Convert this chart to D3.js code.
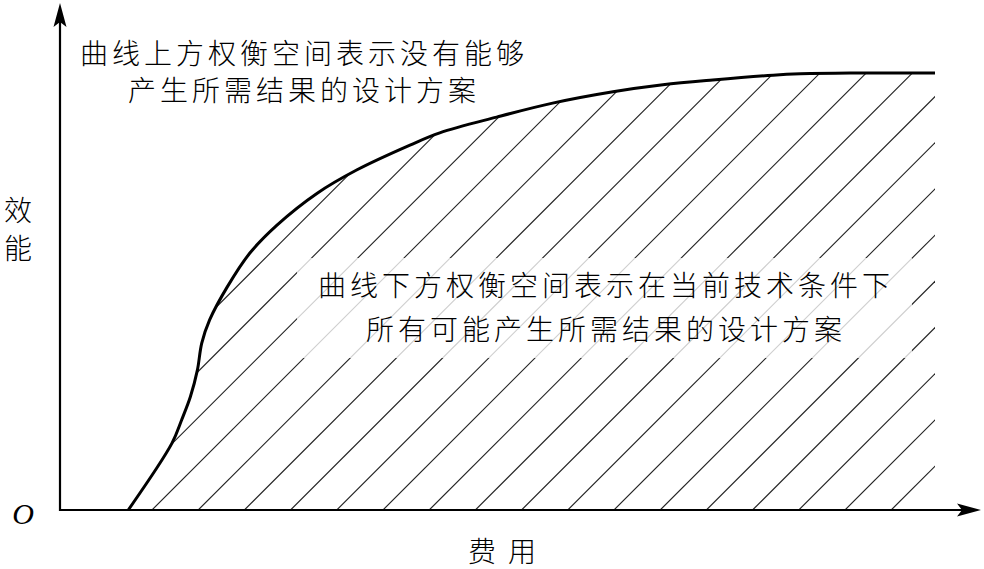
<!DOCTYPE html>
<html><head><meta charset="utf-8">
<script src="https://cdn.jsdelivr.net/npm/d3@7/dist/d3.min.js"></script>
<style>
html,body{margin:0;padding:0;background:#fff;}
svg{display:block;}
.cjk{font-family:"Noto Sans CJK SC","Noto Sans",sans-serif;font-weight:300;fill:#000;}
</style></head>
<body><svg id="chart" width="984" height="569"></svg>
<script>
// Cost (费用) values along the frontier, 0..100
const cost = [7.8, 12.8, 13.9, 14.9, 15.7, 16.2, 17.1, 19.1, 21.7, 24.8, 29.4, 33.9, 40.0, 43.4, 49.9, 56.3, 63.2, 68.9, 74.6, 81.5, 84.6, 90.3, 100];
// Effectiveness (效能) values along the frontier, 0..100
const effect = [0, 15.3, 20.6, 25.9, 32.0, 38.2, 43.5, 51.0, 58.8, 65.2, 72.5, 77.8, 83.5, 86.3, 89.9, 93.1, 95.7, 97.3, 98.4, 99.5, 99.8, 100, 100];
const upperText = ["曲线上方权衡空间表示没有能够", "产生所需结果的设计方案"];
const lowerText = ["曲线下方权衡空间表示在当前技术条件下", "所有可能产生所需结果的设计方案"];
const yTitle = ["效", "能"];
const xTitle = ["费", "用"];
const originLabel = "O";

const svg = d3.select("#chart");
const x = d3.scaleLinear().domain([0, 100]).range([60, 935]);
const y = d3.scaleLinear().domain([0, 100]).range([510, 73]);
const pts = cost.map((c, i) => [c, effect[i]]);

const defs = svg.append("defs");
const crv = d3.curveCatmullRom.alpha(0.5);
const area = d3.area().x(d => x(d[0])).y0(y(0)).y1(d => y(d[1])).curve(crv);
defs.append("clipPath").attr("id", "under").append("path").attr("d", area(pts));

// hatch lines at 45 degrees
const step = 46.2, base = 152;
const hatch = svg.append("g").attr("clip-path", "url(#under)");
for (let x0 = base - step * 12; x0 <= 940; x0 += step) {
  hatch.append("line").attr("x1", x0).attr("y1", y(0)).attr("x2", x0 + 460).attr("y2", y(0) - 460)
    .attr("stroke", "#222").attr("stroke-width", 1.1);
}
// light veil behind lower text
svg.append("rect").attr("x", 297).attr("y", 258).attr("width", 615).attr("height", 100)
  .attr("fill", "#fff").attr("opacity", 0.78);

// curve
const line = d3.line().x(d => x(d[0])).y(d => y(d[1])).curve(crv);
svg.append("path").attr("d", line(pts)).attr("fill", "none").attr("stroke", "#000").attr("stroke-width", 3);

// axes
function arrow(tx, ty, ang) {
  const g = svg.append("g").attr("transform", `translate(${tx},${ty}) rotate(${ang})`);
  g.append("path").attr("d", "M0,0 L-24,-6.5 L-19,0 L-24,6.5 Z").attr("fill", "#000");
}
svg.append("line").attr("x1", 60).attr("y1", y(0)).attr("x2", 962).attr("y2", y(0)).attr("stroke", "#000").attr("stroke-width", 2.2);
svg.append("line").attr("x1", 60).attr("y1", y(0) + 1.1).attr("x2", 60).attr("y2", 20).attr("stroke", "#000").attr("stroke-width", 2.2);
arrow(981, y(0), 0);
arrow(60, 3, -90);

// labels
const fs = 28;
upperText.forEach((t, i) => {
  svg.append("text").attr("class", "cjk").attr("x", 304).attr("y", 52 + i * 37)
    .attr("text-anchor", "middle").attr("dominant-baseline", "central")
    .attr("font-size", fs).attr("letter-spacing", 4).text(t);
});
lowerText.forEach((t, i) => {
  svg.append("text").attr("class", "cjk").attr("x", 606).attr("y", 284 + i * 44)
    .attr("text-anchor", "middle").attr("dominant-baseline", "central")
    .attr("font-size", fs).attr("letter-spacing", 4).text(t);
});
yTitle.forEach((t, i) => {
  svg.append("text").attr("class", "cjk").attr("x", 18).attr("y", 209 + i * 38)
    .attr("text-anchor", "middle").attr("dominant-baseline", "central")
    .attr("font-size", fs).text(t);
});
xTitle.forEach((t, i) => {
  svg.append("text").attr("class", "cjk").attr("x", 482 + i * 40).attr("y", 550)
    .attr("text-anchor", "middle").attr("dominant-baseline", "central")
    .attr("font-size", fs).text(t);
});
svg.append("text").attr("x", 23).attr("y", 524).attr("text-anchor", "middle")
  .attr("font-family", "Liberation Serif, serif").attr("font-style", "italic").attr("font-size", 30).text(originLabel);
</script></body></html>
